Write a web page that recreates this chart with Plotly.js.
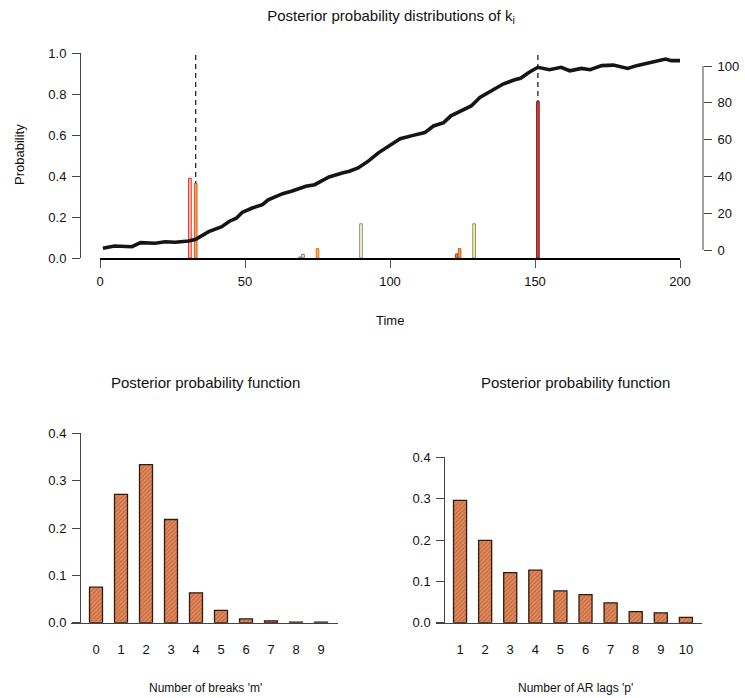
<!DOCTYPE html>
<html>
<head>
<meta charset="utf-8">
<script src="https://cdn.plot.ly/plotly-3.0.1.min.js"></script>
<style>html,body{margin:0;padding:0;background:#fff}#chart{width:745px;height:698px}</style>
</head>
<body>
<div id="chart"></div>
<script>
// ---- Data ----
// Top: series (right axis)
const seriesTime = [1, 5, 11, 14, 19, 22.5, 26, 30.5, 33, 37.5, 42, 44.5, 47, 49, 52.5, 56, 58, 63, 66, 71, 74, 79, 83.5, 86, 89, 92.5, 96, 100, 103.5, 108, 112, 115, 118.5, 121, 125.5, 128, 131, 135, 139, 143, 145, 148, 151, 155, 159, 162, 166, 169, 173, 177, 182, 185, 189, 195, 197, 200];
const seriesValue = [0.9, 2.2, 1.8, 4.0, 3.7, 4.5, 4.2, 4.9, 5.8, 10, 12.7, 15.5, 17.3, 20.4, 22.8, 24.6, 27.3, 30.6, 31.9, 34.6, 35.5, 39.7, 41.9, 42.8, 44.6, 48.3, 52.8, 56.8, 60.5, 62.3, 63.8, 67.4, 69.2, 72.9, 76.5, 78.3, 82.9, 86.5, 90.2, 92.5, 93.3, 96.6, 99.3, 98, 99.3, 97.4, 98.7, 98, 100.2, 100.5, 98.7, 100.2, 101.6, 103.8, 102.9, 102.9];
// Top: posterior probabilities of break dates
const breakTimes = [31, 33, 69, 70, 75, 90, 123, 124, 129, 151];
const breakProbs = [0.389, 0.364, 0.005, 0.018, 0.046, 0.167, 0.02, 0.046, 0.167, 0.763];
const modeBreaks = [33, 151];
// Bottom-left: number of breaks
const mCategories = [0, 1, 2, 3, 4, 5, 6, 7, 8, 9];
const mProbs = [0.075, 0.271, 0.334, 0.218, 0.063, 0.026, 0.008, 0.004, 0.001, 0.001];
// Bottom-right: AR lags
const pCategories = [1, 2, 3, 4, 5, 6, 7, 8, 9, 10];
const pProbs = [0.296, 0.199, 0.121, 0.127, 0.077, 0.068, 0.048, 0.027, 0.024, 0.013];
const leftTicks = [0, 0.2, 0.4, 0.6, 0.8, 1.0];
const rightTicks = [0, 20, 40, 60, 80, 100];
const timeTicks = [0, 50, 100, 150, 200];

// ---- Styles ----
const barFill = ['#f9d6cc', '#f6a55a', '#e4e4dc', '#eeeedd', '#f7b040', '#fffde0', '#d08040', '#f0a040', '#ffff90', '#d84040'];
const barEdge = ['#e8231c', '#e0501c', '#777777', '#777766', '#e07a20', '#8a8a78', '#a04a20', '#c06020', '#8a8a70', '#7a1a1a'];

const W = 745, H = 698;
const px = v => v / W;
const py = v => 1 - v / H;
const font = {family: 'Liberation Sans, Arial, Helvetica, sans-serif', color: '#111'};
const tickFont = Object.assign({}, font, {size: 13});

const traces = [];
traces.push({
  type: 'bar', x: breakTimes, y: breakProbs, width: 0.9,
  xaxis: 'x', yaxis: 'y',
  marker: {color: barFill, line: {color: barEdge, width: 1}},
  hoverinfo: 'skip'
});
traces.push({
  type: 'scatter', mode: 'lines', x: seriesTime, y: seriesValue,
  xaxis: 'x', yaxis: 'y2',
  line: {color: '#151515', width: 3.6}, hoverinfo: 'skip'
});
const orangeBar = {
  color: '#d9794e',
  line: {color: '#2c1c12', width: 1.3},
  pattern: {shape: '/', fgcolor: '#c2653b', bgcolor: '#e08a5e', size: 3, solidity: 0.35}
};
traces.push({type: 'bar', x: mCategories, y: mProbs, xaxis: 'x2', yaxis: 'y3', marker: orangeBar, hoverinfo: 'skip'});
traces.push({type: 'bar', x: pCategories, y: pProbs, xaxis: 'x3', yaxis: 'y4', marker: orangeBar, hoverinfo: 'skip'});

const yBase = {
  showgrid: false, zeroline: false, showline: true, linecolor: '#444', linewidth: 1,
  ticks: 'outside', ticklen: 8, tickcolor: '#444', tickwidth: 1, tickfont: tickFont,
  ticklabelstandoff: 3, fixedrange: true
};

// dashed lines at the modal break dates, drawn beneath the bars
const breakShapes = modeBreaks.map(b => ({
  type: 'line', xref: 'x', yref: 'y', x0: b, x1: b, y0: 0, y1: 1, layer: 'below',
  line: {color: '#111', width: 1.2, dash: '5px,4px'}
}));

const layout = {
  width: W, height: H,
  margin: {l: 0, r: 0, t: 0, b: 0},
  paper_bgcolor: '#fff', plot_bgcolor: 'rgba(0,0,0,0)',
  showlegend: false, bargap: 0.48,
  title: {text: 'Posterior probability distributions of k<sub>i</sub>', x: px(391), y: py(16),
          xanchor: 'center', yanchor: 'middle', font: Object.assign({}, font, {size: 15})},
  xaxis: {domain: [px(100), px(680)], range: [0, 200], anchor: 'y',
          showgrid: false, zeroline: false, showline: true, linecolor: '#000', linewidth: 2.2,
          tickvals: timeTicks, ticks: 'outside', ticklen: 8, tickcolor: '#555', tickwidth: 1,
          tickfont: tickFont, ticklabelstandoff: 2, fixedrange: true},
  yaxis: Object.assign({}, yBase, {domain: [py(258), py(53)], range: [0, 1], anchor: 'free',
          position: px(80), side: 'left', tickvals: leftTicks, tickformat: '.1f'}),
  yaxis2: Object.assign({}, yBase, {overlaying: 'y', range: [-4.35, 107.07], anchor: 'free',
          position: px(703), side: 'right', showline: false, tickvals: rightTicks}),
  xaxis2: {domain: [px(71), px(338)], range: [-1.0, 9.68], anchor: 'y3',
          showgrid: false, zeroline: false, showline: true, linecolor: '#444', linewidth: 1,
          tickvals: mCategories, ticks: 'outside', ticklen: 15, tickcolor: 'rgba(0,0,0,0)',
          tickfont: tickFont, fixedrange: true},
  yaxis3: Object.assign({}, yBase, {domain: [py(622.7), py(433.3)], range: [0, 0.4], anchor: 'free',
          position: px(80), side: 'left', dtick: 0.1, tickformat: '.1f'}),
  xaxis3: {domain: [px(435.7), px(701.7)], range: [0.03, 10.63], anchor: 'y4',
          showgrid: false, zeroline: false, showline: true, linecolor: '#444', linewidth: 1,
          tickvals: pCategories, ticks: 'outside', ticklen: 15, tickcolor: 'rgba(0,0,0,0)',
          tickfont: tickFont, fixedrange: true},
  yaxis4: Object.assign({}, yBase, {domain: [py(622.7), py(457.3)], range: [0, 0.4], anchor: 'free',
          position: px(444.3), side: 'left', dtick: 0.1, tickformat: '.1f'}),
  shapes: breakShapes.concat([
    {type: 'line', xref: 'paper', yref: 'y2', x0: px(703), x1: px(703), y0: 0, y1: 100,
     line: {color: '#444', width: 1}}
  ]),
  annotations: [
    {text: 'Probability', xref: 'paper', yref: 'paper', x: px(19), y: py(155), textangle: -90,
     showarrow: false, xanchor: 'center', yanchor: 'middle', font: Object.assign({}, font, {size: 13})},
    {text: 'Time', xref: 'paper', yref: 'paper', x: px(390), y: py(320),
     showarrow: false, xanchor: 'center', yanchor: 'middle', font: Object.assign({}, font, {size: 13})},
    {text: 'Posterior probability function', xref: 'paper', yref: 'paper', x: px(205), y: py(382),
     showarrow: false, xanchor: 'center', yanchor: 'middle', font: Object.assign({}, font, {size: 15})},
    {text: 'Posterior probability function', xref: 'paper', yref: 'paper', x: px(575), y: py(382),
     showarrow: false, xanchor: 'center', yanchor: 'middle', font: Object.assign({}, font, {size: 15})},
    {text: "Number of breaks 'm'", xref: 'paper', yref: 'paper', x: px(205), y: py(688),
     showarrow: false, xanchor: 'center', yanchor: 'middle', font: Object.assign({}, font, {size: 12})},
    {text: "Number of AR lags 'p'", xref: 'paper', yref: 'paper', x: px(575), y: py(688),
     showarrow: false, xanchor: 'center', yanchor: 'middle', font: Object.assign({}, font, {size: 12})}
  ]
};

Plotly.newPlot('chart', traces, layout, {staticPlot: true, displayModeBar: false});
</script>
</body>
</html>
